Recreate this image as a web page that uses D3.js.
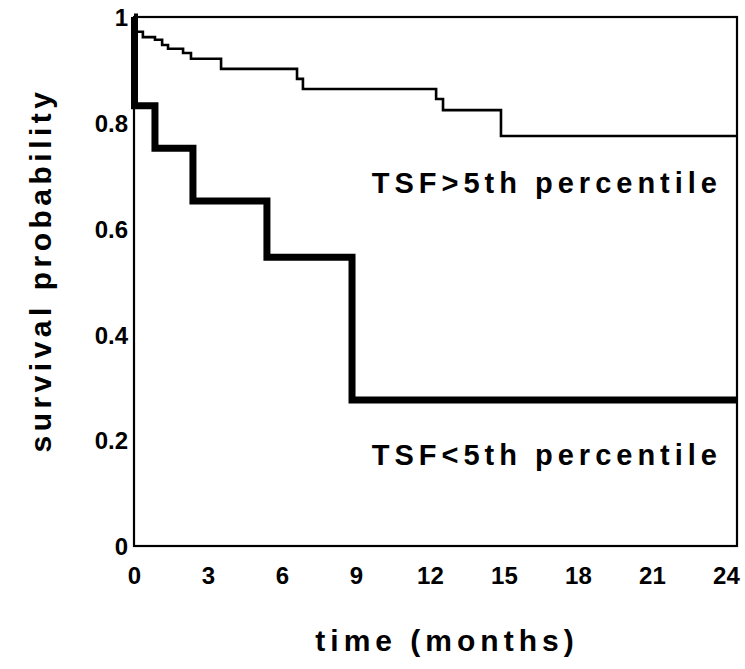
<!DOCTYPE html>
<html><head><meta charset="utf-8">
<script src="https://cdn.jsdelivr.net/npm/d3@7"></script>
<style>body{margin:0;background:#fff}</style>
</head><body>
<svg id="c" width="745" height="669"></svg>
<script>
const xTicks = [0, 3, 6, 9, 12, 15, 18, 21, 24];
const yTicks = [0, 0.2, 0.4, 0.6, 0.8, 1];
const yTickLabels = ["0", "0.2", "0.4", "0.6", "0.8", "1"];
// TSF>5th percentile (thin)
const highTimes  = [0, 0.05, 0.36, 0.85, 1.14, 1.38, 1.99, 2.31, 3.53, 6.61, 6.85, 12.25, 12.53, 14.88, 24.45];
const highValues = [1, 0.972, 0.962, 0.957, 0.947, 0.940, 0.932, 0.921, 0.902, 0.883, 0.864, 0.845, 0.824, 0.775, 0.775];
// TSF<5th percentile (thick)
const lowTimes  = [0, 0.02, 0.85, 2.39, 5.39, 8.84, 24.45];
const lowValues = [1, 0.832, 0.752, 0.652, 0.546, 0.276, 0.276];
const labels = ["TSF>5th percentile", "TSF<5th percentile"];

const svg = d3.select("#c");
const L = 134, R = 737, T = 17, B = 546;
const x = d3.scaleLinear().domain([0, 24.45]).range([L, R]);
const y = d3.scaleLinear().domain([0, 1]).range([B, T]);

const line = d3.line().x(d => x(d[0])).y(d => y(d[1])).curve(d3.curveStepAfter);

svg.append("rect").attr("x", L).attr("y", T).attr("width", R - L).attr("height", B - T)
  .attr("fill", "none").attr("stroke", "#000").attr("stroke-width", 2.2);

svg.append("path").datum(d3.zip(highTimes, highValues)).attr("d", line)
  .attr("fill", "none").attr("stroke", "#000").attr("stroke-width", 2.6);
svg.append("path").datum(d3.zip(lowTimes, lowValues)).attr("d", line)
  .attr("fill", "none").attr("stroke", "#000").attr("stroke-width", 7).attr("stroke-linejoin", "miter");

const tickFont = "'Liberation Sans Narrow','Liberation Sans',Arial,sans-serif";
const xAxis = d3.axisBottom(x).tickValues(xTicks).tickSize(0).tickPadding(0).tickFormat(d3.format("d"));
const gx = svg.append("g").attr("transform", `translate(0,${B})`).call(xAxis);
gx.select(".domain").remove();
gx.selectAll("text").attr("dy", 0).attr("y", 38).attr("font-family", tickFont)
  .attr("font-weight", "bold").attr("font-size", 24).attr("fill", "#000");

const yAxis = d3.axisLeft(y).tickValues(yTicks).tickSize(0).tickPadding(6)
  .tickFormat((d, i) => yTickLabels[i]);
const gy = svg.append("g").attr("transform", `translate(${L},0)`).call(yAxis);
gy.select(".domain").remove();
gy.selectAll("text").attr("dy", "0.36em").attr("font-family", tickFont)
  .attr("font-weight", "bold").attr("font-size", 24).attr("fill", "#000");

const bigFont = "'Liberation Sans',Arial,sans-serif";
svg.append("text").attr("x", 722).attr("y", 193).attr("text-anchor", "end")
  .attr("font-family", bigFont).attr("font-weight", "bold").attr("font-size", 29)
  .attr("letter-spacing", 5).text(labels[0]);
svg.append("text").attr("x", 722).attr("y", 465).attr("text-anchor", "end")
  .attr("font-family", bigFont).attr("font-weight", "bold").attr("font-size", 29)
  .attr("letter-spacing", 5).text(labels[1]);

svg.append("text").attr("x", 447).attr("y", 651).attr("text-anchor", "middle")
  .attr("font-family", bigFont).attr("font-weight", "bold").attr("font-size", 30)
  .attr("letter-spacing", 5).text("time (months)");
svg.append("text").attr("transform", "translate(51,270) rotate(-90)").attr("text-anchor", "middle")
  .attr("font-family", bigFont).attr("font-weight", "bold").attr("font-size", 30)
  .attr("letter-spacing", 4.5).text("survival probability");
</script>
</body></html>
